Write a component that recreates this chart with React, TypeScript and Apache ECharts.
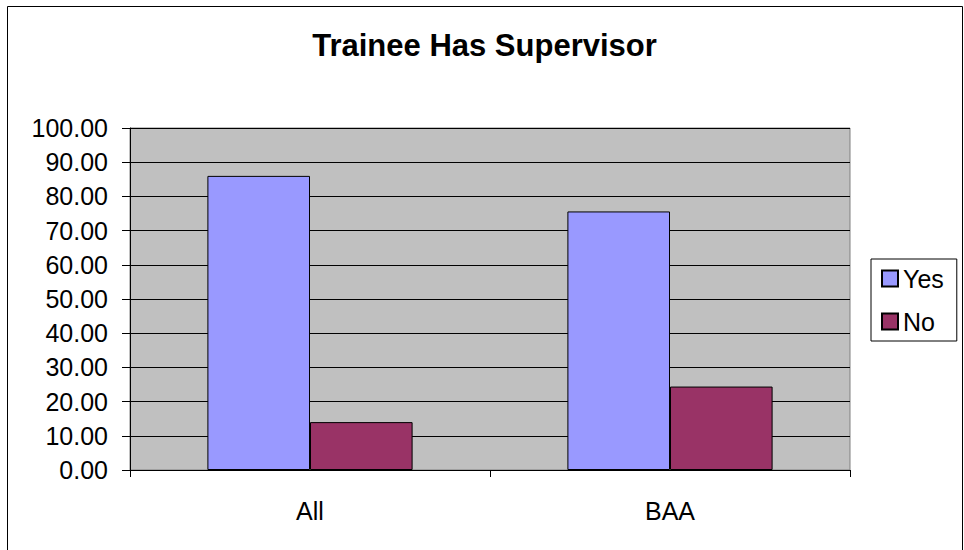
import React, { useEffect, useRef } from "react";
import * as echarts from "echarts";

const categories = ["All", "BAA"];
const seriesNames = ["Yes", "No"];
const yesValues = [86.0, 75.6];
const noValues = [14.0, 24.4];
const titleText = "Trainee Has Supervisor";

export default function App() {
  const ref = useRef<HTMLDivElement>(null);
  useEffect(() => {
    if (!ref.current) return;
    const chart = echarts.init(ref.current, null, { renderer: "svg" });
    const font = "'Liberation Sans', Arial, sans-serif";
    chart.setOption({
      animation: false,
      backgroundColor: "#ffffff",
      textStyle: { fontFamily: font },
      title: {
        text: titleText,
        left: 484.5,
        textAlign: "center",
        top: 30,
        padding: 0,
        textStyle: { fontFamily: font, fontSize: 31, fontWeight: "bold", color: "#000" },
      },
      legend: {
        orient: "vertical",
        left: 871,
        top: 259,
        padding: [7, 13, 7, 10],
        itemWidth: 16,
        itemHeight: 16,
        itemGap: 18,
        itemTextGap: 10,
        borderColor: "#000",
        borderWidth: 1,
        backgroundColor: "#fff",
        icon: "rect",
        data: seriesNames,
        textStyle: { fontFamily: font, fontSize: 25, color: "#000" },
      },
      grid: {
        left: 130,
        top: 128,
        right: 114,
        bottom: 80,
        show: true,
        backgroundColor: "#C0C0C0",
        borderColor: "#808080",
        borderWidth: 1,
      },
      xAxis: {
        type: "category",
        data: categories,
        axisLine: { show: true, lineStyle: { color: "#000", width: 1 } },
        axisTick: { show: true, length: 7, alignWithLabel: false, lineStyle: { color: "#000" } },
        axisLabel: { fontFamily: font, fontSize: 25, color: "#000", margin: 28 },
        splitLine: { show: false },
      },
      yAxis: {
        type: "value",
        min: 0,
        max: 100,
        interval: 10,
        axisLine: { show: true, lineStyle: { color: "#000", width: 1 } },
        axisTick: { show: true, length: 8, lineStyle: { color: "#000" } },
        axisLabel: {
          fontFamily: font,
          fontSize: 25,
          color: "#000",
          margin: 22,
          formatter: (v: number) => v.toFixed(2),
        },
        splitLine: { show: true, lineStyle: { color: "#000", width: 1 } },
      },
      series: [
        {
          name: seriesNames[0],
          type: "bar",
          data: yesValues,
          barGap: "0%",
          barCategoryGap: "43%",
          itemStyle: { color: "#9999FF", borderColor: "#000", borderWidth: 1 },
        },
        {
          name: seriesNames[1],
          type: "bar",
          data: noValues,
          barGap: "0%",
          barCategoryGap: "43%",
          itemStyle: { color: "#993366", borderColor: "#000", borderWidth: 1 },
        },
      ],
      graphic: [
        {
          type: "rect",
          shape: { x: 7.5, y: 6.5, width: 955, height: 600 },
          style: { fill: "none", stroke: "#000", lineWidth: 1 },
          silent: true,
        },
      ],
    });
    return () => chart.dispose();
  }, []);
  return (
    <div
      ref={ref}
      style={{ position: "fixed", left: 0, top: 0, width: 964, height: 550 }}
    />
  );
}
